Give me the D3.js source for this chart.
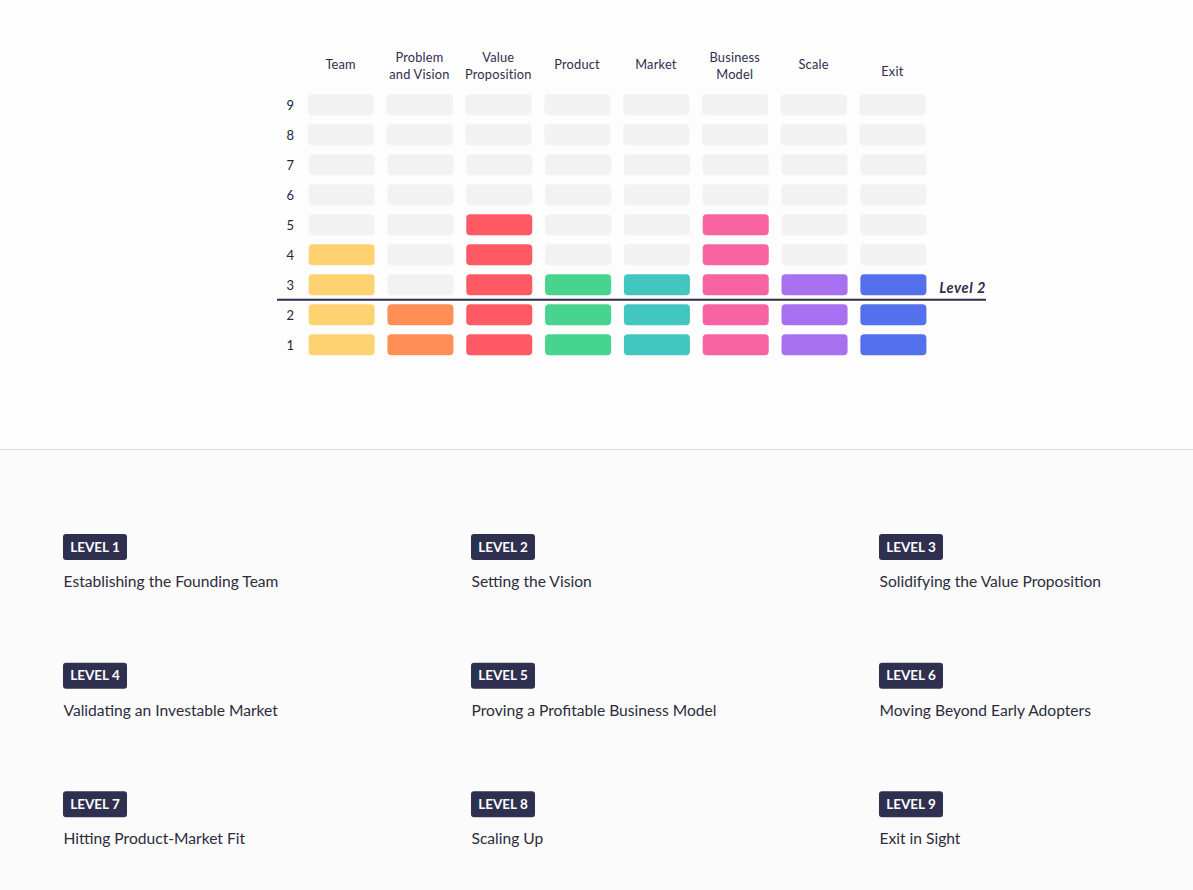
<!DOCTYPE html>
<html>
<head>
<meta charset="utf-8">
<script src="https://cdn.jsdelivr.net/npm/d3@7"></script>
<style>
  html, body { margin: 0; background: #fdfdfd; }
  svg { display: block; }
  text { font-family: Lato, sans-serif; fill: #2f2f4d; }
</style>
</head>
<body>
<svg id="chart" width="1193" height="890"></svg>
<script>
// column names, and how far each column is filled
let columns = ['Team', 'Problem and Vision', 'Value Proposition', 'Product', 'Market', 'Business Model', 'Scale', 'Exit'];
let columnLines = [['Team'], ['Problem', 'and Vision'], ['Value', 'Proposition'], ['Product'], ['Market'], ['Business', 'Model'], ['Scale'], ['Exit']];
let filledTo = [4, 2, 5, 3, 3, 5, 3, 3];
let colors = ['#ffd271', '#ff8f56', '#ff5964', '#46d48e', '#41c7c0', '#f763a0', '#a770f0', '#5470ec'];
let rows = [9, 8, 7, 6, 5, 4, 3, 2, 1];
let levelLine = 2;
let levelNames = ['Level 1', 'Level 2', 'Level 3', 'Level 4', 'Level 5', 'Level 6', 'Level 7', 'Level 8', 'Level 9'];
let levelTexts = [
  'Establishing the Founding Team', 'Setting the Vision', 'Solidifying the Value Proposition',
  'Validating an Investable Market', 'Proving a Profitable Business Model', 'Moving Beyond Early Adopters',
  'Hitting Product-Market Fit', 'Scaling Up', 'Exit in Sight'
];

let svg = d3.select('#chart');

svg.append('rect').attr('y', 449).attr('width', 1193).attr('height', 441).attr('fill', '#fbfbfb');
svg.append('line').attr('x1', 0).attr('x2', 1193).attr('y1', 449.5).attr('y2', 449.5).attr('stroke', '#d9d9d9');

let x = d3.scaleBand().domain(columns).range([302.3, 932.7]).paddingInner(0.1625).paddingOuter(0.08);
let y = d3.scaleBand().domain(rows).range([89.8, 359.8]).paddingInner(0.3).paddingOuter(0.15);

// top two rows sit slightly to the left in the original
let shift = r => r >= 8 ? -0.7 : 0;

let cells = [];
columns.forEach((c, i) => rows.forEach(r => cells.push({ c, r, on: r <= filledTo[i], color: colors[i] })));

svg.selectAll('rect.cell').data(cells).enter()
  .append('rect')
  .attr('class', 'cell')
  .attr('x', d => x(d.c) + shift(d.r))
  .attr('y', d => y(d.r))
  .attr('width', x.bandwidth())
  .attr('height', y.bandwidth())
  .attr('rx', 4)
  .attr('fill', d => d.on ? d.color : '#f2f2f2');

let yAxis = d3.axisLeft(y).tickSize(0).tickPadding(0);
svg.append('g').attr('transform', 'translate(294, 1.2)').call(yAxis)
  .call(g => g.select('.domain').remove())
  .selectAll('text')
  .attr('font-size', 13)
  .style('font-family', 'Lato, sans-serif')
  .style('fill', '#26263a');

let head = svg.selectAll('text.head').data(columns).enter()
  .append('text')
  .attr('class', 'head')
  .attr('text-anchor', 'middle')
  .attr('font-size', 12.8)
  .attr('letter-spacing', 0.2)
  .attr('y', (d, i) => columnLines[i].length > 1 ? 61.5 : (i === 7 ? 75.5 : 69));
head.selectAll('tspan').data((d, i) => columnLines[i]).enter()
  .append('tspan')
  .attr('x', function () { return x(this.parentNode.__data__) + x.bandwidth() / 2 - 1; })
  .attr('dy', (d, i) => i ? 17 : 0)
  .text(d => d);

// line between rows 3 and 2
let lineY = (y(levelLine + 1) + y.bandwidth() + y(levelLine)) / 2;
svg.append('line').attr('x1', 277).attr('x2', 986).attr('y1', lineY).attr('y2', lineY)
  .attr('stroke', '#2f2f4d').attr('stroke-width', 2);
svg.append('text').attr('x', 986).attr('y', lineY - 7).attr('text-anchor', 'end')
  .attr('font-size', 14.5).attr('font-weight', 700).attr('font-style', 'italic')
  .attr('letter-spacing', 0.6)
  .text(levelNames[levelLine - 1]);

// level list below the chart
let listX = d3.scaleBand().domain([0, 1, 2]).range([63, 1287]);
let listY = d3.scaleBand().domain([0, 1, 2]).range([534, 920]);
let item = svg.selectAll('g.level').data(levelNames).enter()
  .append('g')
  .attr('class', 'level')
  .attr('transform', (d, i) => `translate(${listX(i % 3)}, ${listY(Math.floor(i / 3))})`);
item.append('rect').attr('width', 64).attr('height', 26).attr('rx', 3).attr('fill', '#2f2f4f');
item.append('text').attr('x', 32).attr('y', 17.5).attr('text-anchor', 'middle')
  .attr('font-size', 13.5).attr('font-weight', 700).style('fill', '#ffffff')
  .text(d => d.toUpperCase());
item.append('text').attr('x', 0.5).attr('y', 53).attr('font-size', 15.6)
  .style('fill', '#2c2c3c')
  .text((d, i) => levelTexts[i]);
</script>
</body>
</html>
